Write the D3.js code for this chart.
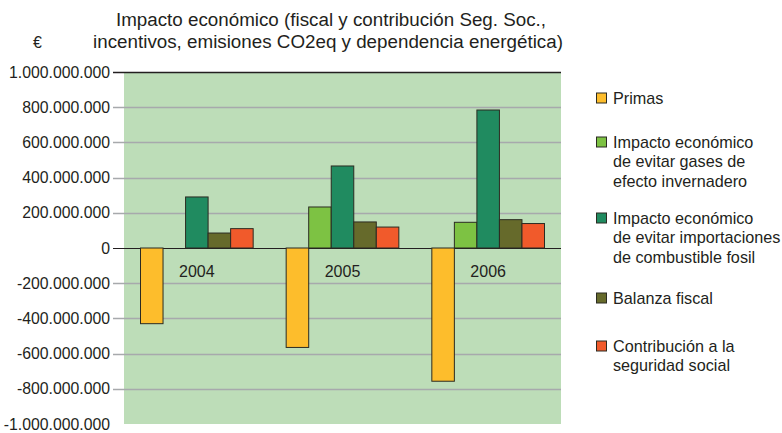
<!DOCTYPE html>
<html lang="es">
<head>
    <meta charset="UTF-8">
    <title>Impacto económico</title>
    <script src="https://cdnjs.cloudflare.com/ajax/libs/d3/7.8.5/d3.min.js"></script>
    <style type="text/css">
        body { margin: 0; background: #fff; }
        text { font-family: "Liberation Sans", Arial, sans-serif; fill: #231f20; }
    </style>
</head>
<body>
<div class="container"></div>
<script>
    const years = ['2004', '2005', '2006'];
    const seriesNames = [
        'Primas',
        'Impacto económico de evitar gases de efecto invernadero',
        'Impacto económico de evitar importaciones de combustible fosil',
        'Balanza fiscal',
        'Contribución a la seguridad social'
    ];
    const primas = [-430e6, -565e6, -757e6];
    const gases = [0, 233e6, 146e6];
    const importaciones = [290e6, 466e6, 784e6];
    const balanza = [85e6, 148e6, 161e6];
    const contribucion = [110e6, 119e6, 139e6];
    const yTicks = [-1e9, -8e8, -6e8, -4e8, -2e8, 0, 2e8, 4e8, 6e8, 8e8, 1e9];

    const legendLines = [
        ['Primas'],
        ['Impacto económico', 'de evitar gases de', 'efecto invernadero'],
        ['Impacto económico', 'de evitar importaciones', 'de combustible fosil'],
        ['Balanza fiscal'],
        ['Contribución a la', 'seguridad social']
    ];
    const colors = ['#fdbd2c', '#7dc243', '#208b60', '#666a2b', '#f15a2b'];

    const values = [primas, gases, importaciones, balanza, contribucion];
    const rows = years.map((y, i) => ({
        year: y,
        vals: seriesNames.map((s, j) => ({key: s, idx: j, value: values[j][i]}))
    }));

    const W = 782, H = 433;
    const plotLeft = 124, plotRight = 561, plotTop = 72, plotBottom = 424;

    const svg = d3.select('.container')
        .append('svg')
        .attr('width', W)
        .attr('height', H);

    const yScale = d3.scaleLinear()
        .domain([-1e9, 1e9])
        .range([plotBottom, plotTop]);

    const x0 = d3.scaleBand()
        .domain(years)
        .range([plotLeft, plotRight]);

    const x1 = d3.scaleBand()
        .domain(seriesNames)
        .range([16.5, x0.bandwidth() - 16.5]);

    const fmt = v => d3.format(',')(v).replace(/,/g, '.').replace('−', '-');

    // plot background
    svg.append('rect')
        .attr('x', plotLeft)
        .attr('y', plotTop)
        .attr('width', plotRight - plotLeft)
        .attr('height', plotBottom - plotTop)
        .attr('fill', '#bdddb8');

    // grid lines + ticks
    svg.append('g')
        .selectAll('line')
        .data(yTicks.filter(d => d > -1e9))
        .enter()
        .append('line')
        .attr('x1', 113)
        .attr('x2', plotRight)
        .attr('y1', d => Math.round(yScale(d)) + 0.5)
        .attr('y2', d => Math.round(yScale(d)) + 0.5)
        .attr('stroke', d => (d === 1e9 || d === 0) ? '#231f20' : '#a7a9ac')
        .attr('stroke-width', d => d === 1e9 ? 1.5 : (d === 0 ? 1 : 1.5));

    // y labels
    svg.append('g')
        .selectAll('text')
        .data(yTicks)
        .enter()
        .append('text')
        .attr('x', 110)
        .attr('y', d => yScale(d))
        .attr('text-anchor', 'end')
        .attr('dominant-baseline', 'central')
        .attr('font-size', 15.8)
        .text(fmt);

    // bars
    const groups = svg.append('g')
        .selectAll('g')
        .data(rows)
        .enter()
        .append('g')
        .attr('transform', d => 'translate(' + x0(d.year) + ',0)');

    groups.selectAll('rect')
        .data(d => d.vals.filter(v => v.value !== 0))
        .enter()
        .append('rect')
        .attr('x', d => x1(d.key))
        .attr('width', x1.bandwidth())
        .attr('y', d => yScale(Math.max(0, d.value)))
        .attr('height', d => Math.abs(yScale(d.value) - yScale(0)))
        .attr('fill', d => colors[d.idx])
        .attr('stroke', '#2b2b22')
        .attr('stroke-width', 1);

    // category labels
    svg.append('g')
        .selectAll('text')
        .data(years)
        .enter()
        .append('text')
        .attr('x', d => x0(d) + x0.bandwidth() / 2)
        .attr('y', 271)
        .attr('text-anchor', 'middle')
        .attr('dominant-baseline', 'central')
        .attr('font-size', 16)
        .text(d => d);

    // title
    svg.append('text')
        .attr('x', 331)
        .attr('y', 26)
        .attr('text-anchor', 'middle')
        .attr('font-size', 18.8)
        .text('Impacto económico (fiscal y contribución Seg. Soc.,');
    svg.append('text')
        .attr('x', 328)
        .attr('y', 48)
        .attr('text-anchor', 'middle')
        .attr('font-size', 18.8)
        .text('incentivos, emisiones CO2eq y dependencia energética)');
    svg.append('text')
        .attr('x', 33)
        .attr('y', 48)
        .attr('font-size', 16)
        .text('€');

    // legend
    const legendY = [98, 142, 218, 298, 346];
    const legend = svg.append('g')
        .selectAll('g')
        .data(legendLines)
        .enter()
        .append('g')
        .attr('transform', (d, i) => 'translate(596,' + legendY[i] + ')');

    legend.append('rect')
        .attr('x', 0.5)
        .attr('y', -5)
        .attr('width', 10)
        .attr('height', 10)
        .attr('fill', (d, i) => colors[i])
        .attr('stroke', '#2b2b22')
        .attr('stroke-width', 1);

    legend.append('text')
        .attr('font-size', 16.2)
        .selectAll('tspan')
        .data(d => d)
        .enter()
        .append('tspan')
        .attr('x', 17)
        .attr('y', (d, i) => i * 19.3)
        .attr('dominant-baseline', 'central')
        .text(d => d);
</script>
</body>
</html>
